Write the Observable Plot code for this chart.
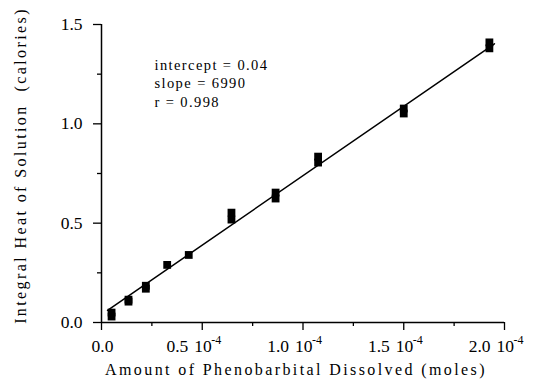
<!DOCTYPE html>
<html><head><meta charset="utf-8">
<script src="https://cdn.jsdelivr.net/npm/d3@7"></script>
<script src="https://cdn.jsdelivr.net/npm/@observablehq/plot@0.6"></script>
<style>
body{margin:0;background:#fff;}
#chart svg{display:block;}
</style>
</head><body><div id="chart"></div>
<script>
// Amount of phenobarbital dissolved (moles)
const amount = [0.05e-4, 0.05e-4, 0.134e-4, 0.134e-4, 0.22e-4, 0.22e-4, 0.326e-4, 0.433e-4,
                0.645e-4, 0.645e-4, 0.864e-4, 0.864e-4, 1.075e-4, 1.075e-4, 1.50e-4, 1.50e-4,
                1.925e-4, 1.925e-4];
// Integral heat of solution (calories)
const heat = [0.03, 0.05, 0.105, 0.115, 0.17, 0.185, 0.29, 0.34,
              0.553, 0.518, 0.654, 0.624, 0.835, 0.805, 1.077, 1.052,
              1.41, 1.38];
// Fit parameters (from the annotation)
const intercept = 0.04, slope = 6990, rValue = 0.998;
const fitRange = [0.03e-4, 1.95e-4];
const annotation = ["intercept = 0.04", "slope = 6990", "r = 0.998"];

const yMajor = [0, 0.5, 1.0, 1.5];
const yMinor = [0.25, 0.75, 1.25];
const xMajor = [0, 0.5e-4, 1.0e-4, 1.5e-4, 2.0e-4];
const xMinor = [0.25e-4, 0.75e-4, 1.25e-4, 1.75e-4];
const xTickNumbers = ["0.0", "0.5", "1.0", "1.5", "2.0"];
const xTickPower = ["", "10", "10", "10", "10"];
const xTickExp = ["", "-4", "-4", "-4", "-4"];
const xLabel = "Amount of Phenobarbital Dissolved (moles)";
const yLabel = "Integral Heat of Solution\u00a0 (calories)";

const points = amount.map((x, i) => ({x, y: heat[i]}));
const fit = fitRange.map(x => ({x, y: intercept + slope * x}));
const xTicks = xMajor.map((v, i) => ({v, num: xTickNumbers[i], pow: xTickPower[i], exp: xTickExp[i]}));
const font = "Liberation Serif";

const chart = Plot.plot({
  width: 533, height: 379,
  marginLeft: 101, marginRight: 29, marginTop: 24, marginBottom: 57,
  x: {domain: [0, 2e-4]},
  y: {domain: [0, 1.5]},
  style: {fontFamily: font, color: "black", background: "white", overflow: "visible"},
  marks: [
    Plot.axisY({ticks: yMajor, tickSize: 8, tickPadding: 11, tickFormat: d => d.toFixed(1), fontSize: 17.5, label: null, strokeWidth: 1.3}),
    Plot.axisY({ticks: yMinor, tickSize: 4, tickFormat: () => "", label: null, strokeWidth: 1.3}),
    Plot.axisX({ticks: xMajor, tickSize: 8, tickFormat: () => "", label: null, strokeWidth: 1.3}),
    Plot.axisX({ticks: xMinor, tickSize: 4, tickFormat: () => "", label: null, strokeWidth: 1.3}),
    Plot.ruleX([0], {y1: 0, y2: 1.5, strokeWidth: 1.5}),
    Plot.ruleY([0], {x1: 0, x2: 2e-4, strokeWidth: 1.5}),
    // x tick labels
    Plot.text(xTicks.filter(d => d.pow === ""), {x: "v", y: 0, text: "num", textAnchor: "middle", lineAnchor: "bottom", dx: 1, dy: 29, fontSize: 17.5}),
    Plot.text(xTicks.filter(d => d.pow !== ""), {x: "v", y: 0, text: "num", textAnchor: "end", lineAnchor: "bottom", dx: -14, dy: 29, fontSize: 17.5}),
    Plot.text(xTicks.filter(d => d.pow !== ""), {x: "v", y: 0, text: "pow", textAnchor: "start", lineAnchor: "bottom", dx: -8, dy: 29, fontSize: 17.5}),
    Plot.text(xTicks.filter(d => d.pow !== ""), {x: "v", y: 0, text: "exp", textAnchor: "start", lineAnchor: "bottom", dx: 9, dy: 21, fontSize: 12}),
    // fit line
    Plot.line(fit, {x: "x", y: "y", stroke: "black", strokeWidth: 1.5}),
    // data
    Plot.dot(points, {x: "x", y: "y", symbol: "square", r: 4.4, fill: "black", stroke: "none"}),
    // annotation
    Plot.text([annotation.join("\n")], {frameAnchor: "top-left", dx: 53, dy: 33, textAnchor: "start", lineAnchor: "top", lineHeight: 1.25, fontSize: 14.5, fill: "black"}),
    // axis labels
    Plot.text([xLabel], {frameAnchor: "bottom", textAnchor: "middle", dx: -7, dy: 52, lineAnchor: "bottom", fontSize: 16}),
    Plot.text([yLabel], {frameAnchor: "left", textAnchor: "middle", dx: -81, dy: -8, rotate: -90, lineAnchor: "middle", fontSize: 16})
  ]
});
document.getElementById("chart").append(chart);
// wide, CM-like letter spacing for the label texts
chart.querySelectorAll("text").forEach(t => {
  const s = t.textContent;
  if (s === xLabel || s === yLabel) t.setAttribute("letter-spacing", "2.4");
});
chart.querySelectorAll("text").forEach(t => {
  if (t.textContent.startsWith("intercept")) t.setAttribute("letter-spacing", "1.4");
});
</script>
</body></html>
